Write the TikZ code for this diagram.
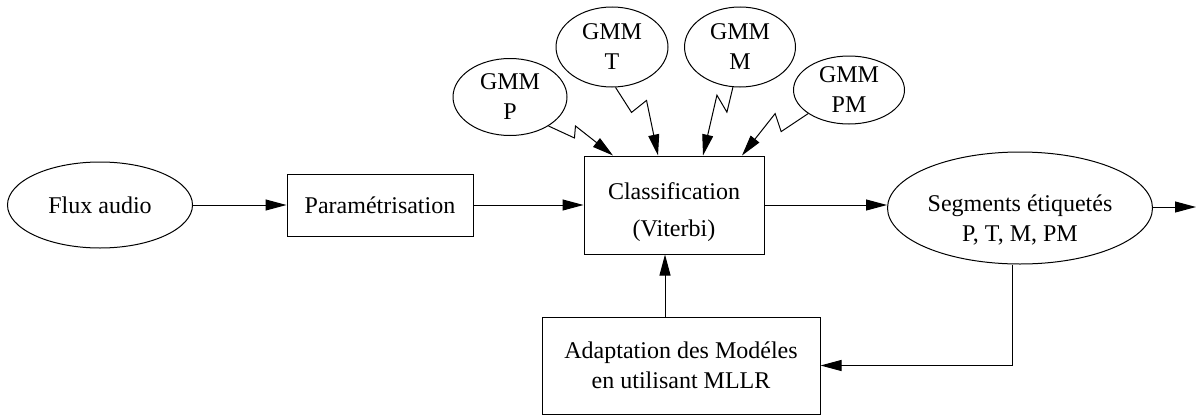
\documentclass[tikz,border=0pt]{standalone}
\usepackage{fontspec}
\setmainfont{Liberation Serif}
\usetikzlibrary{shapes.geometric,arrows.meta}

\begin{document}
\begin{tikzpicture}[x=1pt, y=-1pt, line width=1pt,
    every node/.style={font=\fontsize{24}{30}\selectfont, align=center, inner sep=0pt},
    oval/.style={draw, ellipse},
    bloc/.style={draw, rectangle},
    arr/.style={-{Triangle[length=21pt,width=11pt]}}]
    \useasboundingbox (0,0) rectangle (1196,415);
    \node[oval, minimum width=185pt, minimum height=86pt] (flux) at (100,205){Flux audio};
    \node[bloc, minimum width=186pt, minimum height=62pt] (param) at (380,205){Paramétrisation};
    \node[bloc, minimum width=180pt, minimum height=98pt] (cls) at (674,205){\rule{0pt}{31pt}Classification\\[7pt](Viterbi)};
    \node[oval, minimum width=265pt, minimum height=112pt] (seg) at (1020,208){\rule{0pt}{40pt}Segments étiquetés\\P, T, M, PM};
    \node[bloc, minimum width=278pt, minimum height=97pt] (adapt) at (681,365.5){Adaptation des Modéles\\en utilisant MLLR};
    \node[oval, minimum width=114pt, minimum height=77pt] (gp) at (510,97){GMM\\P};
    \node[oval, minimum width=112pt, minimum height=80pt] (gt) at (612,47){GMM\\T};
    \node[oval, minimum width=111pt, minimum height=80pt] (gm) at (740,47){GMM\\M};
    \node[oval, minimum width=111pt, minimum height=68pt] (gpm) at (849,90){GMM\\PM};
    \coordinate (out) at (1196,207);

    \draw[arr] (flux) -- (param);
    \draw[arr] (param) -- (cls);
    \draw[arr] (cls.east) -- (cls.east -| seg.west);
    \draw[arr] (seg.east |- out) -- (out);
    \draw[arr] ([xshift=-16pt]adapt.north) -- ([xshift=-16pt]adapt.north |- cls.south);
    \draw[arr] ([xshift=-8pt]seg.south) |- (adapt.east);
    % zigzag links from the models
    \draw[arr] (gp.-37) -- ++(26,12) -- ++(1,-12) -- ([xshift=-61pt]cls.north);
    \draw[arr] (gt.-85) -- ++(16,25) -- ++(15,-12) -- ([xshift=-16pt]cls.north);
    \draw[arr] (gm.-100) -- ++(-6,25) -- ++(-10,-17) -- ([xshift=29pt]cls.north);
    \draw[arr] (gpm.-150) -- ++(-27,18) -- ++(-6,-18) -- ([xshift=68pt]cls.north);
\end{tikzpicture}
\end{document}
